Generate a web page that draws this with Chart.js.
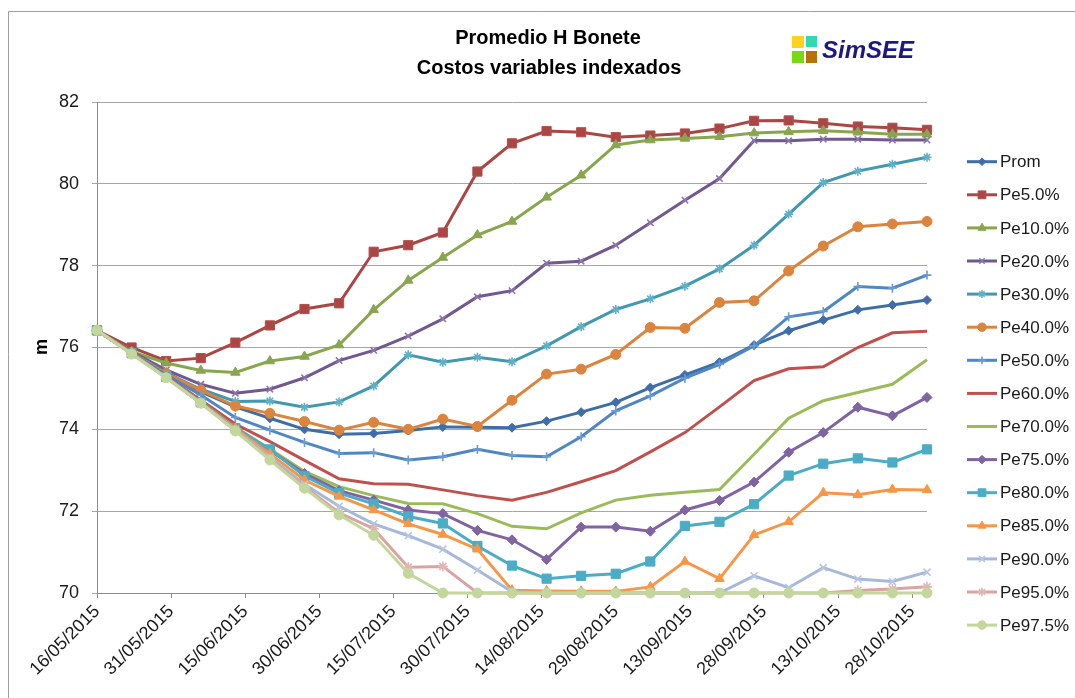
<!DOCTYPE html>
<html>
<head>
<meta charset="utf-8">
<script src="https://cdn.jsdelivr.net/npm/chart.js@4.4.1/dist/chart.umd.min.js"></script>
<style>
  html, body { margin: 0; padding: 0; background: #ffffff; }
  #wrap { width: 1075px; height: 698px; position: relative; }
</style>
</head>
<body>
<div id="wrap"><canvas id="c" width="1075" height="698"></canvas></div>
<script>
// Weekly simulation dates (dd/mm/yyyy)
const weekDates = [
  '16/05/2015','23/05/2015','30/05/2015','06/06/2015','13/06/2015','20/06/2015','27/06/2015',
  '04/07/2015','11/07/2015','18/07/2015','25/07/2015','01/08/2015','08/08/2015','15/08/2015',
  '22/08/2015','29/08/2015','05/09/2015','12/09/2015','19/09/2015','26/09/2015','03/10/2015',
  '10/10/2015','17/10/2015','24/10/2015','31/10/2015'
];

// Date axis labels, every 15 days
const tickLabels = [
  '16/05/2015','31/05/2015','15/06/2015','30/06/2015','15/07/2015','30/07/2015',
  '14/08/2015','29/08/2015','13/09/2015','28/09/2015','13/10/2015','28/10/2015'
];

const yTicks = [70, 72, 74, 76, 78, 80, 82];

// Series: average level and exceedance percentiles (m)
const prom  = [76.42,75.88,75.40,74.92,74.55,74.27,74.00,73.88,73.90,73.97,74.06,74.05,74.04,74.20,74.42,74.66,75.02,75.33,75.64,76.06,76.41,76.67,76.92,77.04,77.16];
const pe5   = [76.42,76.00,75.67,75.74,76.12,76.54,76.94,77.08,78.34,78.50,78.81,80.30,80.99,81.29,81.26,81.14,81.18,81.23,81.35,81.54,81.55,81.48,81.40,81.37,81.32];
const pe10  = [76.42,75.90,75.62,75.44,75.39,75.67,75.78,76.06,76.92,77.64,78.20,78.75,79.08,79.67,80.21,80.95,81.07,81.11,81.15,81.24,81.27,81.30,81.26,81.21,81.21];
const pe20  = [76.42,75.90,75.45,75.10,74.88,74.98,75.26,75.68,75.93,76.28,76.70,77.24,77.39,78.06,78.11,78.50,79.05,79.60,80.13,81.06,81.05,81.09,81.09,81.07,81.07];
const pe30  = [76.42,75.88,75.38,74.98,74.68,74.69,74.54,74.67,75.06,75.82,75.64,75.76,75.65,76.04,76.51,76.93,77.19,77.50,77.92,78.50,79.26,80.03,80.31,80.48,80.65];
const pe40  = [76.42,75.88,75.36,74.96,74.57,74.39,74.19,73.98,74.17,74.00,74.25,74.07,74.71,75.35,75.47,75.83,76.49,76.47,77.10,77.14,77.87,78.48,78.95,79.02,79.08];
const pe50  = [76.42,75.87,75.33,74.84,74.29,73.98,73.68,73.41,73.43,73.25,73.33,73.51,73.36,73.33,73.82,74.45,74.82,75.25,75.59,76.04,76.75,76.88,77.49,77.45,77.77];
const pe60  = [76.42,75.86,75.30,74.72,74.13,73.70,73.24,72.79,72.67,72.66,72.52,72.38,72.27,72.46,72.72,72.99,73.45,73.92,74.55,75.19,75.48,75.53,76.00,76.36,76.40];
const pe70  = [76.42,75.86,75.28,74.68,74.05,73.52,72.97,72.60,72.38,72.19,72.18,71.94,71.63,71.57,71.96,72.27,72.39,72.46,72.53,73.39,74.27,74.70,74.90,75.10,75.70];
const pe75  = [76.42,75.86,75.28,74.67,74.04,73.48,72.92,72.50,72.27,72.03,71.94,71.53,71.30,70.82,71.61,71.61,71.51,72.03,72.26,72.71,73.44,73.92,74.54,74.33,74.78];
const pe80  = [76.42,75.86,75.28,74.66,74.03,73.51,72.86,72.44,72.18,71.87,71.70,71.15,70.67,70.35,70.42,70.47,70.77,71.64,71.74,72.17,72.87,73.16,73.29,73.19,73.51];
const pe85  = [76.42,75.86,75.27,74.65,74.02,73.40,72.76,72.36,72.03,71.69,71.43,71.07,70.07,70.05,70.04,70.04,70.15,70.77,70.35,71.42,71.74,72.45,72.40,72.53,72.52];
const pe90  = [76.42,75.85,75.27,74.64,74.00,73.32,72.66,72.12,71.69,71.40,71.07,70.56,70.03,70.00,70.00,70.00,70.00,70.00,70.00,70.42,70.13,70.62,70.34,70.28,70.51];
const pe95  = [76.42,75.85,75.26,74.64,73.98,73.28,72.60,71.96,71.57,70.63,70.65,70.00,70.00,70.00,70.00,70.00,70.00,70.00,70.00,70.00,70.00,70.00,70.06,70.10,70.15];
const pe975 = [76.42,75.84,75.26,74.64,73.96,73.25,72.56,71.91,71.41,70.48,70.00,70.00,70.00,70.00,70.00,70.00,70.00,70.00,70.00,70.00,70.00,70.00,70.00,70.00,70.00];

const seriesNames = ['Prom','Pe5.0%','Pe10.0%','Pe20.0%','Pe30.0%','Pe40.0%','Pe50.0%','Pe60.0%',
                     'Pe70.0%','Pe75.0%','Pe80.0%','Pe85.0%','Pe90.0%','Pe95.0%','Pe97.5%'];
const seriesValues = [prom, pe5, pe10, pe20, pe30, pe40, pe50, pe60, pe70, pe75, pe80, pe85, pe90, pe95, pe975];

// Line colour, marker shape, marker radius, marker outline colour
const seriesStyles = [
  { color: '#3E6DA8', marker: 'rectRot',  r: 4.5, edge: '#3E6DA8' },
  { color: '#AA4643', marker: 'rect',     r: 6.5, edge: '#B5504D' },
  { color: '#89A54E', marker: 'triangle', r: 5.5, edge: '#89A54E' },
  { color: '#71588F', marker: 'crossRot', r: 4.5, edge: '#8B77A8' },
  { color: '#4198AF', marker: 'star',     r: 4.5, edge: '#5FB0C6' },
  { color: '#DB843D', marker: 'circle',   r: 5,   edge: '#DB843D' },
  { color: '#4F86C6', marker: 'cross',    r: 4.5, edge: '#6C9BD2' },
  { color: '#C0504D', marker: false,      r: 0,   edge: '#C0504D' },
  { color: '#9BBB59', marker: false,      r: 0,   edge: '#9BBB59' },
  { color: '#8064A2', marker: 'rectRot',  r: 5,   edge: '#8064A2' },
  { color: '#4BACC6', marker: 'rect',     r: 6.5, edge: '#4BACC6' },
  { color: '#F79646', marker: 'triangle', r: 5.5, edge: '#F79646' },
  { color: '#A8B8DA', marker: 'crossRot', r: 5,   edge: '#B8C6E2' },
  { color: '#D9A3A2', marker: 'star',     r: 5,   edge: '#E2B5B4' },
  { color: '#C3D69B', marker: 'circle',   r: 5,   edge: '#C3D69B' }
];

const DAY = 86400000;
function parseDate(s) {
  const [d, m, y] = s.split('/').map(Number);
  return Date.UTC(y, m - 1, d);
}
const origin = parseDate(weekDates[0]);
const dayOf = s => Math.round((parseDate(s) - origin) / DAY);
const xDays = weekDates.map(dayOf);
const tickDays = tickLabels.map(dayOf);
const labelByDay = {};
tickDays.forEach((d, i) => { labelByDay[d] = tickLabels[i]; });

const FONT = '"Liberation Sans", Arial, sans-serif';
Chart.defaults.font.family = FONT;
Chart.defaults.color = '#1a1a1a';

const N = seriesNames.length;
const datasets = seriesNames.map((name, i) => {
  const st = seriesStyles[i];
  return {
    label: name,
    data: seriesValues[i].map((v, k) => ({ x: xDays[k], y: v })),
    borderColor: st.color,
    backgroundColor: st.color,
    borderWidth: 3,
    pointStyle: st.marker,
    pointRadius: st.r,
    pointHoverRadius: st.r,
    pointBackgroundColor: st.color,
    pointBorderColor: st.edge,
    pointBorderWidth: (st.marker === 'cross' || st.marker === 'crossRot' || st.marker === 'star') ? 1.6 : 1,
    tension: 0,
    clip: false,
    order: N - i
  };
});

// Frame, titles, logo, axis title and side legend
const decorations = {
  id: 'decorations',
  afterDraw(chart) {
    const ctx = chart.ctx;
    ctx.save();
    // chart frame
    ctx.strokeStyle = '#a0a0a0';
    ctx.lineWidth = 1;
    ctx.beginPath();
    ctx.moveTo(8.5, 698);
    ctx.lineTo(8.5, 11.5);
    ctx.lineTo(1075, 11.5);
    ctx.stroke();

    // title
    ctx.fillStyle = '#000000';
    ctx.font = 'bold 20px ' + FONT;
    ctx.textAlign = 'center';
    ctx.textBaseline = 'middle';
    ctx.fillText('Promedio H Bonete', 548, 38);
    ctx.fillText('Costos variables indexados', 549, 68);

    // SimSEE logo
    ctx.fillStyle = '#FFD21F'; ctx.fillRect(792, 36, 12, 12);
    ctx.fillStyle = '#2ED9B4'; ctx.fillRect(806, 36, 11, 11);
    ctx.fillStyle = '#77D911'; ctx.fillRect(792, 51, 12, 12);
    ctx.fillStyle = '#B8700A'; ctx.fillRect(806, 51, 11, 12);
    ctx.fillStyle = '#1C1A82';
    ctx.font = 'italic bold 24px ' + FONT;
    ctx.textAlign = 'left';
    ctx.textBaseline = 'alphabetic';
    ctx.fillText('SimSEE', 822, 58);

    // y axis title
    ctx.save();
    ctx.translate(42, 347);
    ctx.rotate(-Math.PI / 2);
    ctx.fillStyle = '#000000';
    ctx.font = 'bold 18px ' + FONT;
    ctx.textAlign = 'center';
    ctx.textBaseline = 'middle';
    ctx.fillText('m', 0, 0);
    ctx.restore();

    // legend
    chart.data.datasets.forEach((ds, i) => {
      const y = 161.7 + i * 33.1;
      ctx.strokeStyle = ds.borderColor;
      ctx.lineWidth = 3;
      ctx.beginPath();
      ctx.moveTo(967, y);
      ctx.lineTo(997, y);
      ctx.stroke();
      if (ds.pointStyle) {
        ctx.fillStyle = ds.pointBackgroundColor;
        ctx.strokeStyle = ds.pointBorderColor;
        ctx.lineWidth = ds.pointBorderWidth;
        Chart.helpers.drawPoint(ctx, {
          pointStyle: ds.pointStyle,
          radius: ds.pointRadius * 0.85,
          borderWidth: ds.pointBorderWidth,
          rotation: 0
        }, 982, y);
      }
      ctx.fillStyle = '#1a1a1a';
      ctx.font = '17px ' + FONT;
      ctx.textAlign = 'left';
      ctx.textBaseline = 'middle';
      ctx.fillText(ds.label, 1000, y + 1);
    });
    ctx.restore();
  }
};

new Chart(document.getElementById('c'), {
  type: 'line',
  data: { datasets },
  options: {
    responsive: false,
    animation: false,
    events: [],
    layout: { padding: { left: 0, right: 148, top: 102, bottom: 0 } },
    plugins: {
      legend: { display: false },
      title: { display: false },
      tooltip: { enabled: false }
    },
    scales: {
      x: {
        type: 'linear',
        min: xDays[0],
        max: xDays[xDays.length - 1],
        afterBuildTicks(scale) {
          scale.ticks = tickDays.map(v => ({ value: v }));
        },
        afterFit(scale) { scale.height = 105; },
        grid: { drawOnChartArea: false, drawTicks: true, tickLength: 5, color: '#8c8c8c' },
        border: { display: true, color: '#8c8c8c', width: 1 },
        ticks: {
          autoSkip: false,
          minRotation: 45,
          maxRotation: 45,
          padding: 3,
          font: { size: 18 },
          color: '#1a1a1a',
          callback: v => labelByDay[v] ?? ''
        }
      },
      y: {
        min: yTicks[0],
        max: yTicks[yTicks.length - 1],
        afterBuildTicks(scale) {
          scale.ticks = yTicks.map(v => ({ value: v }));
        },
        afterFit(scale) { scale.width = 97; },
        grid: { color: '#a6a6a6', lineWidth: 1, drawTicks: true, tickLength: 5 },
        border: { display: true, color: '#8c8c8c', width: 1 },
        ticks: {
          padding: 13,
          font: { size: 18 },
          color: '#1a1a1a',
          callback: v => String(v)
        }
      }
    }
  },
  plugins: [decorations]
});
</script>
</body>
</html>
